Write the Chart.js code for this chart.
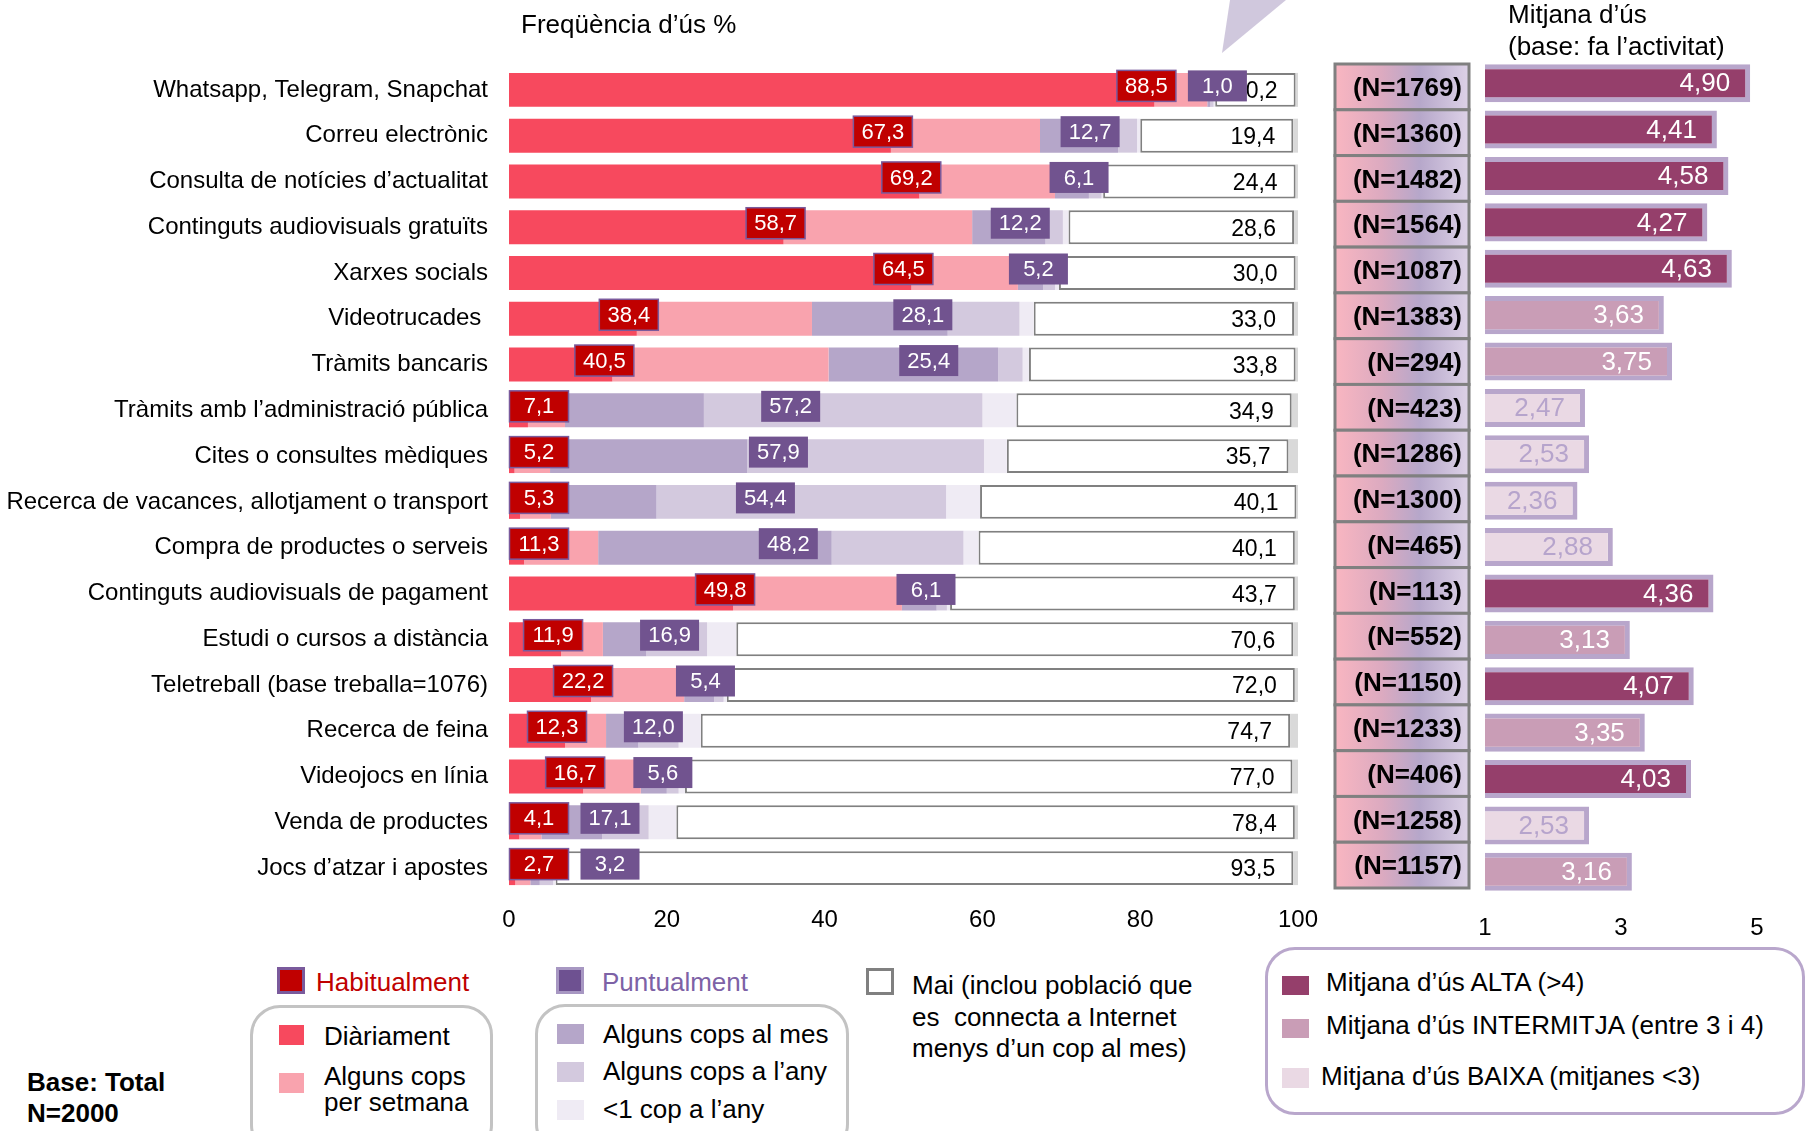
<!DOCTYPE html>
<html lang="ca">
<head>
<meta charset="utf-8">
<title>Freqüència d'ús</title>
<script src="https://cdn.jsdelivr.net/npm/chart.js@4.4.1/dist/chart.umd.min.js"></script>
<style>
  body { margin: 0; background: #fff; font-family: "Liberation Sans", Arial, sans-serif; }
  #page { position: relative; width: 1806px; height: 1131px; overflow: hidden; }
  canvas { position: absolute; top: 0; }
  .t { position: absolute; height: 30px; line-height: 30px; white-space: pre; color: #000; font-size: 26px; }
  .m { position: absolute; box-sizing: border-box; }
  .box { position: absolute; box-sizing: border-box; border: 3px solid #c3c3c3; border-radius: 30px; }
</style>
</head>
<body>
<div id="page">
  <canvas id="freq" width="1480" height="945" style="left:0"></canvas>
  <canvas id="mitjana" width="486" height="945" style="left:1320px"></canvas>

  <!-- decoracio de dalt -->
  <div class="m" style="left:1222px; top:0; width:66px; height:53px; background:#d0c8dd; clip-path:polygon(8px 0, 64px 0, 0 53px);"></div>

  <div class="t" style="left:521px; top:9px; font-size:26px;">Freqüència d’ús %</div>
  <div class="t" style="left:1508px; top:-1px; font-size:26px;">Mitjana d’ús</div>
  <div class="t" style="left:1508px; top:31px; font-size:26px;">(base: fa l’activitat)</div>

  <!-- llegenda -->
  <div class="m" style="left:277px; top:967px; width:28px; height:27px; background:#c00000; border:3px solid #7a5a9c;"></div>
  <div class="t" style="left:316px; top:967px; color:#c00000;">Habitualment</div>
  <div class="m" style="left:556px; top:967px; width:28px; height:27px; background:#6e5191; border:3px solid #a797c2;"></div>
  <div class="t" style="left:602px; top:967px; color:#7d62a6;">Puntualment</div>
  <div class="m" style="left:866px; top:968px; width:28px; height:27px; background:#fff; border:3px solid #808080;"></div>
  <div class="t" style="left:912px; top:970px;">Mai (inclou població que</div>
  <div class="t" style="left:912px; top:1002px;">es  connecta a Internet</div>
  <div class="t" style="left:912px; top:1033px;">menys d’un cop al mes)</div>

  <div class="box" style="left:250px; top:1005px; width:243px; height:150px;"></div>
  <div class="m" style="left:279px; top:1025px; width:25px; height:20px; background:#f7495e;"></div>
  <div class="t" style="left:324px; top:1021px;">Diàriament</div>
  <div class="m" style="left:279px; top:1073px; width:25px; height:20px; background:#f9a3ae;"></div>
  <div class="t" style="left:324px; top:1061px;">Alguns cops</div>
  <div class="t" style="left:324px; top:1087px;">per setmana</div>

  <div class="box" style="left:535px; top:1004px; width:314px; height:150px;"></div>
  <div class="m" style="left:557px; top:1024px; width:27px; height:20px; background:#b5a6c9;"></div>
  <div class="t" style="left:603px; top:1019px;">Alguns cops al mes</div>
  <div class="m" style="left:557px; top:1062px; width:27px; height:20px; background:#d3c9de;"></div>
  <div class="t" style="left:603px; top:1056px;">Alguns cops a l’any</div>
  <div class="m" style="left:557px; top:1100px; width:27px; height:20px; background:#efebf4;"></div>
  <div class="t" style="left:603px; top:1094px;">&lt;1 cop a l’any</div>

  <div class="t" style="left:27px; top:1067px; font-weight:bold;">Base: Total</div>
  <div class="t" style="left:27px; top:1098px; font-weight:bold;">N=2000</div>

  <div class="box" style="left:1265px; top:947px; width:540px; height:168px; border-color:#b9a7cc;"></div>
  <div class="m" style="left:1282px; top:976px; width:27px; height:19px; background:#953f6b;"></div>
  <div class="t" style="left:1326px; top:967px;">Mitjana d’ús ALTA (&gt;4)</div>
  <div class="m" style="left:1282px; top:1019px; width:27px; height:19px; background:#c99db6;"></div>
  <div class="t" style="left:1326px; top:1010px;">Mitjana d’ús INTERMITJA (entre 3 i 4)</div>
  <div class="m" style="left:1282px; top:1068px; width:27px; height:20px; background:#ead9e4;"></div>
  <div class="t" style="left:1321px; top:1061px;">Mitjana d’ús BAIXA (mitjanes &lt;3)</div>
</div>

<script>
const categories = [
  'Whatsapp, Telegram, Snapchat',
  'Correu electrònic',
  'Consulta de notícies d’actualitat',
  'Continguts audiovisuals gratuïts',
  'Xarxes socials',
  'Videotrucades ',
  'Tràmits bancaris',
  'Tràmits amb l’administració pública',
  'Cites o consultes mèdiques',
  'Recerca de vacances, allotjament o transport',
  'Compra de productes o serveis',
  'Continguts audiovisuals de pagament',
  'Estudi o cursos a distància',
  'Teletreball (base treballa=1076)',
  'Recerca de feina',
  'Videojocs en línia',
  'Venda de productes',
  'Jocs d’atzar i apostes'
];

// freqüència d'ús (%)
const diariament = [81.8, 48.4, 52.0, 34.8, 51.0, 16.2, 13.1, 2.4, 0.7, 1.4, 1.9, 28.4, 6.6, 10.4, 7.1, 9.4, 1.3, 0.8];
const setmanal   = [6.7, 18.9, 17.2, 23.9, 13.5, 22.2, 27.4, 4.7, 4.5, 3.9, 9.4, 21.4, 5.3, 11.8, 5.2, 7.3, 2.8, 1.9];
const mensual    = [0.4, 9.9, 4.3, 9.3, 3.2, 17.2, 21.5, 17.6, 25.0, 13.4, 29.6, 4.4, 5.5, 3.8, 4.1, 3.3, 7.7, 1.2];
const anual      = [0.4, 2.4, 1.6, 2.2, 1.5, 9.1, 3.1, 35.3, 30.0, 36.7, 16.7, 1.3, 7.7, 1.2, 5.1, 1.5, 5.9, 1.7];
const menysAnual = [0.2, 0.4, 0.2, 0.7, 0.5, 1.8, 0.8, 4.3, 2.9, 4.3, 1.9, 0.4, 3.7, 0.4, 2.8, 0.8, 3.5, 0.3];
const mai        = [10.2, 19.4, 24.4, 28.6, 30.0, 33.0, 33.8, 34.9, 35.7, 40.1, 40.1, 43.7, 70.6, 72.0, 74.7, 77.0, 78.4, 93.5];
const nsnc       = [0.3, 0.6, 0.3, 0.5, 0.3, 0.5, 0.3, 0.8, 1.2, 0.2, 0.4, 0.4, 0.6, 0.4, 1.0, 0.7, 0.4, 0.6];
const habitualment = [88.5, 67.3, 69.2, 58.7, 64.5, 38.4, 40.5, 7.1, 5.2, 5.3, 11.3, 49.8, 11.9, 22.2, 12.3, 16.7, 4.1, 2.7];
const puntualment  = [1.0, 12.7, 6.1, 12.2, 5.2, 28.1, 25.4, 57.2, 57.9, 54.4, 48.2, 6.1, 16.9, 5.4, 12.0, 5.6, 17.1, 3.2];

// mitjana d'ús i base
const mitjanes = [4.90, 4.41, 4.58, 4.27, 4.63, 3.63, 3.75, 2.47, 2.53, 2.36, 2.88, 4.36, 3.13, 4.07, 3.35, 4.03, 2.53, 3.16];
const mostres  = [1769, 1360, 1482, 1564, 1087, 1383, 294, 423, 1286, 1300, 465, 113, 552, 1150, 1233, 406, 1258, 1157];

const ticksFreq = [0, 20, 40, 60, 80, 100];
const ticksMitjana = [1, 3, 5];

const FONT = '"Liberation Sans", Arial, sans-serif';
const coma = (v, d) => v.toFixed(d).replace('.', ',');

function colorMitjana(v) {
  if (v > 4) return '#953f6b';
  if (v >= 3) return '#c99db6';
  return '#ead9e4';
}

const etiquetesFreq = {
  id: 'etiquetesFreq',
  afterDatasetsDraw(chart) {
    const ctx = chart.ctx;
    const xs = chart.scales.x;
    const ys = chart.scales.y;
    const mDia = chart.getDatasetMeta(0).data;
    const mMes = chart.getDatasetMeta(2).data;
    const mMenys = chart.getDatasetMeta(4).data;
    const mMai = chart.getDatasetMeta(5).data;
    const w = 59, h = 31;
    ctx.save();
    ctx.textBaseline = 'middle';

    categories.forEach((c, i) => {
      const yc = ys.getPixelForValue(i);

      // valor de "Mai"
      ctx.font = '23px ' + FONT;
      ctx.fillStyle = '#000';
      ctx.textAlign = 'right';
      ctx.fillText(coma(mai[i], 1), mMai[i].x - 18, yc + 2);

      // habitualment
      const cr = Math.max(mDia[i].x - 8, xs.left + 30);
      ctx.fillStyle = '#c00000';
      ctx.fillRect(cr - w / 2, yc - 4 - h / 2, w, h);
      ctx.strokeStyle = '#7a5a9c';
      ctx.lineWidth = 1.5;
      ctx.strokeRect(cr - w / 2, yc - 4 - h / 2, w, h);
      ctx.font = '22px ' + FONT;
      ctx.fillStyle = '#fff';
      ctx.textAlign = 'center';
      ctx.fillText(coma(habitualment[i], 1), cr, yc - 3);

      // puntualment
      const mig = (mMes[i].base + mMenys[i].x) / 2;
      const cp = Math.max(mig, cr + w + 12);
      ctx.fillStyle = '#71538f';
      ctx.fillRect(cp - w / 2, yc - 4 - h / 2, w, h);
      ctx.fillStyle = '#fff';
      ctx.fillText(coma(puntualment[i], 1), cp, yc - 3);
    });

    // columna de bases (N=...)
    const x0 = 1335, x1 = 1469;
    const alt = ys.getPixelForValue(1) - ys.getPixelForValue(0);
    const grad = ctx.createLinearGradient(x0, 0, x1, 0);
    grad.addColorStop(0, '#f9b6c1');
    grad.addColorStop(0.35, '#dcaac0');
    grad.addColorStop(0.63, '#b6a7ca');
    grad.addColorStop(1, '#ddd2e7');
    categories.forEach((c, i) => {
      const yc = ys.getPixelForValue(i);
      const top = yc - alt / 2 - 3;
      ctx.fillStyle = grad;
      ctx.fillRect(x0, top, x1 - x0, alt);
      ctx.strokeStyle = '#808080';
      ctx.lineWidth = 3;
      ctx.strokeRect(x0, top, x1 - x0, alt);
      ctx.font = 'bold 26px ' + FONT;
      ctx.fillStyle = '#000';
      ctx.textAlign = 'right';
      ctx.fillText('(N=' + mostres[i] + ')', x1 - 7, yc - 1);
    });
    ctx.restore();
  }
};

const valorsMitjana = {
  id: 'valorsMitjana',
  afterDatasetsDraw(chart) {
    const ctx = chart.ctx;
    const meta = chart.getDatasetMeta(0).data;
    ctx.save();
    ctx.font = '26px ' + FONT;
    ctx.textAlign = 'right';
    ctx.textBaseline = 'middle';
    meta.forEach((el, i) => {
      ctx.fillStyle = mitjanes[i] >= 3 ? '#ffffff' : '#b6a4cc';
      ctx.fillText(coma(mitjanes[i], 2), el.x - 20, el.y + 1);
    });
    ctx.restore();
  }
};

new Chart(document.getElementById('freq'), {
  type: 'bar',
  data: {
    labels: categories,
    datasets: [
      { label: 'Diàriament', data: diariament, backgroundColor: '#f7495e' },
      { label: 'Alguns cops per setmana', data: setmanal, backgroundColor: '#f9a3ae' },
      { label: 'Alguns cops al mes', data: mensual, backgroundColor: '#b5a6c9' },
      { label: 'Alguns cops a l’any', data: anual, backgroundColor: '#d3c9de' },
      { label: '<1 cop a l’any', data: menysAnual, backgroundColor: '#efebf4' },
      { label: 'Mai', data: mai, backgroundColor: '#ffffff', borderColor: '#808080', borderWidth: 2, borderSkipped: false },
      { label: 'NS/NC', data: nsnc, backgroundColor: '#d9d9d9' }
    ]
  },
  options: {
    indexAxis: 'y',
    responsive: false,
    animation: false,
    layout: { padding: { top: 67, right: 182, left: 0, bottom: 0 } },
    datasets: { bar: { barPercentage: 0.742, categoryPercentage: 1 } },
    plugins: { legend: { display: false }, tooltip: { enabled: false } },
    scales: {
      x: {
        stacked: true,
        min: 0,
        max: 100,
        grid: { display: false, drawTicks: false },
        border: { display: false },
        ticks: { color: '#000', font: { size: 24, family: FONT }, padding: 15 },
        afterBuildTicks: s => { s.ticks = ticksFreq.map(v => ({ value: v })); },
        afterFit: s => { s.height = 54; }
      },
      y: {
        stacked: true,
        grid: { display: false, drawTicks: false },
        border: { display: false },
        ticks: { color: '#000', font: { size: 24, family: FONT }, padding: 21, autoSkip: false },
        afterFit: s => { s.width = 509; }
      }
    }
  },
  plugins: [etiquetesFreq]
});

new Chart(document.getElementById('mitjana'), {
  type: 'bar',
  data: {
    labels: categories,
    datasets: [{
      label: 'Mitjana d’ús',
      data: mitjanes,
      backgroundColor: mitjanes.map(colorMitjana),
      borderColor: '#b8a6cb',
      borderWidth: 5,
      borderSkipped: false,
      barPercentage: 0.82,
      categoryPercentage: 1
    }]
  },
  options: {
    indexAxis: 'y',
    responsive: false,
    animation: false,
    layout: { padding: { top: 60, right: 49, left: 165, bottom: 0 } },
    plugins: { legend: { display: false }, tooltip: { enabled: false } },
    scales: {
      x: {
        min: 1,
        max: 5,
        grid: { display: false, drawTicks: false },
        border: { display: false },
        ticks: { color: '#000', font: { size: 24, family: FONT }, padding: 19 },
        afterBuildTicks: s => { s.ticks = ticksMitjana.map(v => ({ value: v })); },
        afterFit: s => { s.height = 50; }
      },
      y: { display: false }
    }
  },
  plugins: [valorsMitjana]
});
</script>
</body>
</html>
